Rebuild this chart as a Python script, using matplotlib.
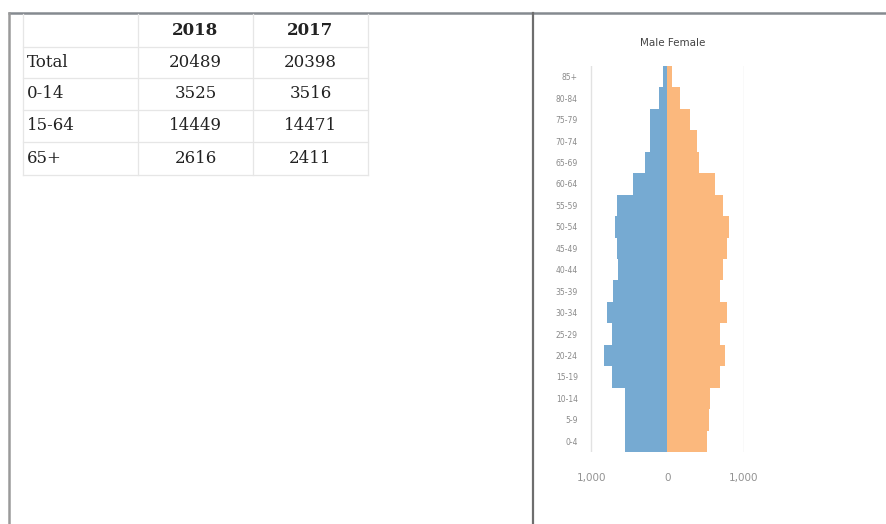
import matplotlib.pyplot as plt
import numpy as np

# table data
years = ["2018", "2017"]
row_labels = ["Total", "0-14", "15-64", "65+"]
values_2018 = [20489, 3525, 14449, 2616]
values_2017 = [20398, 3516, 14471, 2411]

# pyramid data (top to bottom)
age_groups = ["85+", "80-84", "75-79", "70-74", "65-69", "60-64", "55-59", "50-54", "45-49",
              "40-44", "35-39", "30-34", "25-29", "20-24", "15-19", "10-14", "5-9", "0-4"]
male = [60, 110, 230, 230, 295, 450, 660, 690, 660,
        650, 715, 795, 735, 835, 735, 560, 560, 560]
female = [55, 165, 290, 385, 420, 625, 735, 815, 780,
          730, 690, 780, 690, 760, 690, 560, 540, 515]

W, H = 887, 524
fig = plt.figure(figsize=(W / 100, H / 100), dpi=100)

# background axes in pixel coordinates for the page / table
bg = fig.add_axes([0, 0, 1, 1])
bg.set_xlim(0, W)
bg.set_ylim(H, 0)
bg.axis("off")

# page frame lines
bg.plot([8, W], [12.5, 12.5], color="#858a90", lw=1.8, solid_capstyle="butt")
bg.plot([9, 9], [12.5, H], color="#9a9a9a", lw=1.8)
bg.plot([533, 533], [12.5, H], color="#6e6e6e", lw=1.6)

# table grid
col_x = [23, 138, 253, 368]
row_y = [14, 47, 78, 110, 142, 175]
grid_c = "#e6e6e6"
for x in col_x:
    bg.plot([x, x], [row_y[0], row_y[-1]], color=grid_c, lw=0.9)
for y in row_y[1:]:
    bg.plot([col_x[0], col_x[-1]], [y, y], color=grid_c, lw=0.9)

txt_c = "#222222"
row_mid = [(row_y[i] + row_y[i + 1]) / 2 for i in range(len(row_y) - 1)]
col_mid = [(col_x[i] + col_x[i + 1]) / 2 for i in range(len(col_x) - 1)]
for j, yr in enumerate(years):
    bg.text(col_mid[j + 1], row_mid[0], yr, ha="center", va="center",
            family="DejaVu Serif", fontsize=12, fontweight="bold", color=txt_c)
for i, lab in enumerate(row_labels):
    y = row_mid[i + 1]
    bg.text(27, y, lab, ha="left", va="center", family="DejaVu Serif", fontsize=12,
            fontweight="medium", color=txt_c)
    bg.text(col_mid[1], y, str(values_2018[i]), ha="center", va="center",
            family="DejaVu Serif", fontsize=12, color=txt_c)
    bg.text(col_mid[2], y, str(values_2017[i]), ha="center", va="center",
            family="DejaVu Serif", fontsize=12, color=txt_c)

# population pyramid
ax = fig.add_axes([590.5 / W, 1 - 452 / H, 154 / W, 386 / H])
ypos = np.arange(len(age_groups))[::-1]
ax.barh(ypos, -np.array(male), height=1.0, color="#76aad2", linewidth=0)
ax.barh(ypos, female, height=1.0, color="#fbb87d", linewidth=0)
ax.set_xlim(-1013, 1013)
ax.set_ylim(-0.5, len(age_groups) - 0.5)
ax.set_xticks([-1000, 0, 1000])
ax.set_xticklabels(["1,000", "0", "1,000"])
ax.set_yticks(ypos)
ax.set_yticklabels(age_groups)
ax.tick_params(axis="x", length=0, pad=15, labelsize=7.5, labelcolor="#929292")
ax.tick_params(axis="y", length=0, pad=9, labelsize=5.5, labelcolor="#8a8a8a")
for s in ax.spines.values():
    s.set_visible(False)
ax.grid(axis="x", color="#e2e2e2", lw=1.0)
ax.set_axisbelow(True)

fig.text(673 / W, 1 - 43 / H, "Male Female", ha="center", va="center",
         fontsize=7.5, color="#444444")

fig.savefig("out.png", dpi=100)
